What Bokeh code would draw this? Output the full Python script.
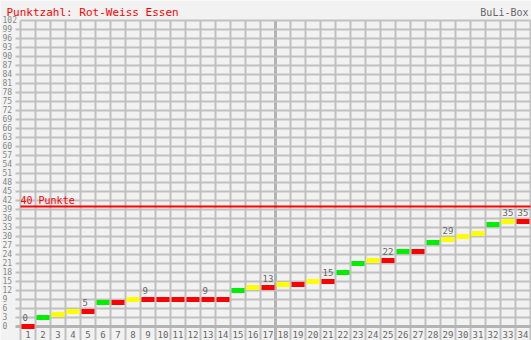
from bokeh.plotting import figure
from bokeh.models import Range1d, ColumnDataSource
from bokeh.core.properties import value
from bokeh.embed import file_html
from bokeh.resources import INLINE

# ---- data ----
title_text = "Punktzahl: Rot-Weiss Essen"
brand_text = "BuLi-Box"
target_label = "40 Punkte"
target_points = 40
matchdays = list(range(1, 35))
points = [0, 3, 4, 5, 5, 8, 8, 9, 9, 9, 9, 9, 9, 9, 12, 13, 13, 14, 14, 15,
          15, 18, 21, 22, 22, 25, 25, 28, 29, 30, 31, 34, 35, 35]
results = ["N", "S", "U", "U", "N", "S", "N", "U", "N", "N", "N", "N", "N", "N",
           "S", "U", "N", "U", "N", "U", "N", "S", "S", "U", "N", "S", "N", "S",
           "U", "U", "U", "S", "U", "N"]
labelled_days = [1, 5, 9, 13, 17, 21, 25, 29, 33, 34]
y_ticks = list(range(0, 103, 3))
half_season = 17

colour_map = {"S": "#00ee00", "U": "#ffff00", "N": "#ff0000"}

# ---- figure: frame covers whole canvas, 15 px per matchday, 3 px per point ----
W, H = 531, 340
X0_PX, Y0_PX = 20, 326  # pixel position of (0, 0)
PX_X, PX_Y = 15.0, 3.0
x_range = Range1d(-X0_PX / PX_X, (W - X0_PX) / PX_X)
y_range = Range1d(-(H - Y0_PX) / PX_Y, Y0_PX / PX_Y)


def py(pixel_y):
    return (Y0_PX - pixel_y) / PX_Y


def px(pixel_x):
    return (pixel_x - X0_PX) / PX_X


p = figure(width=W, height=H, x_range=x_range, y_range=y_range,
           output_backend="svg", toolbar_location=None, min_border=0)
p.axis.visible = False
p.grid.visible = False
p.outline_line_color = None
p.background_fill_color = "#f2f2f2"
p.border_fill_color = "#f2f2f2"

grid_col = "#c0c0c0"
mono = value("DejaVu Sans Mono")
ymin = y_range.start
ymax = max(y_ticks)
ncols = len(matchdays)

# vertical grid lines (column borders)
vx = [i for i in range(ncols + 1) if i != half_season]
p.segment(x0=vx, y0=[ymin] * len(vx), x1=vx, y1=[ymax] * len(vx),
          line_color=grid_col, line_width=2)
p.segment(x0=[half_season], y0=[ymin], x1=[half_season], y1=[ymax],
          line_color="#b4b4b4", line_width=3)

# horizontal grid lines
hy = [t for t in y_ticks if t != 0]
hx0 = [px(15) if t != max(y_ticks) else 0 for t in hy]
p.segment(x0=hx0, y0=hy, x1=[ncols] * len(hy), y1=hy,
          line_color=grid_col, line_width=2)
p.segment(x0=[px(15)], y0=[0], x1=[ncols], y1=[0],
          line_color="#b4b4b4", line_width=3)

# y tick labels
p.text(x=[px(2)] * len(y_ticks), y=y_ticks, text=[str(t) for t in y_ticks],
       text_font=mono, text_font_size="8px", text_color="#888888",
       text_align="left", text_baseline="middle", y_offset=-1)

# x labels
p.text(x=[d - 0.5 for d in matchdays], y=[py(333.5)] * ncols,
       text=[str(d) for d in matchdays], text_font=mono, text_font_size="9px",
       text_color="#666666", text_align="center", text_baseline="middle")

# 40 points line
p.segment(x0=[0], y0=[target_points], x1=[ncols], y1=[target_points],
          line_color="#ff0000", line_width=2)
p.text(x=[0], y=[target_points], text=[target_label], text_font=mono,
       text_font_size="10px", text_color="#ff0000", text_align="left",
       text_baseline="middle", y_offset=-6.5)

# bars
src = ColumnDataSource(dict(x=[d - 0.5 for d in matchdays], y=points,
                            c=[colour_map[r] for r in results]))
p.rect(x="x", y="y", width=13, height=5, width_units="screen", height_units="screen",
       fill_color="c", line_color=None, source=src)

# value labels
lx = [d - 1 + 2 / PX_X for d in labelled_days]
ly = [points[d - 1] for d in labelled_days]
p.text(x=lx, y=ly, text=[str(v) for v in ly], text_font=mono, text_font_size="9px",
       text_color="#666666", text_align="left", text_baseline="middle", y_offset=-9)

# title and brand
p.text(x=[px(6)], y=[py(11.7)], text=[title_text],
       text_font=mono, text_font_size="11px", text_color="#ff0000",
       text_align="left", text_baseline="middle")
p.text(x=[px(528)], y=[py(11.5)], text=[brand_text],
       text_font=mono, text_font_size="10px", text_color="#666666",
       text_align="right", text_baseline="middle")

open("out.html", "w").write(file_html(p, INLINE))
